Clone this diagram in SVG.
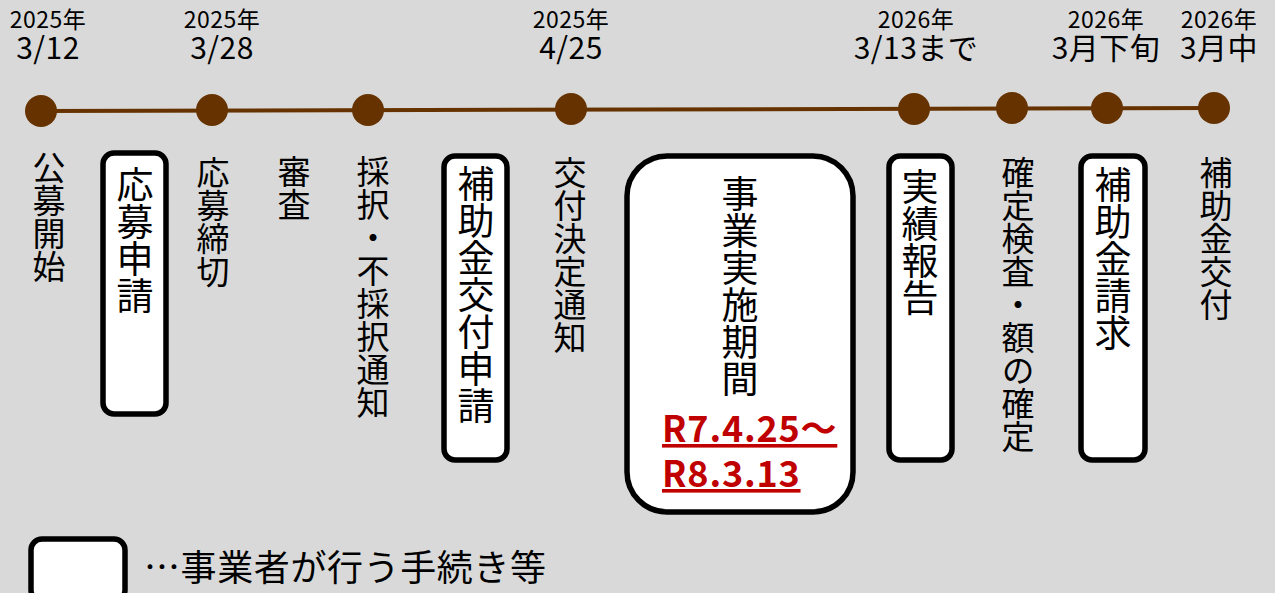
<svg xmlns="http://www.w3.org/2000/svg" width="1275" height="593" viewBox="0 0 1275 593">
<style>
text{font-family:"Noto Sans CJK JP","Noto Sans",sans-serif;fill:#000}
.yr{font-size:23px;text-anchor:middle;letter-spacing:0.5px}
.dt{font-size:30px;text-anchor:middle;letter-spacing:0.5px}
.v{font-size:33px;writing-mode:vertical-rl;text-orientation:upright}
.vb{font-size:37px;writing-mode:vertical-rl;text-orientation:upright}
.box{fill:#fff;stroke:#000;stroke-width:5.5}
.dot{fill:#663300}
.red{font-size:36px;font-weight:700;fill:#c00000;text-decoration:underline;letter-spacing:0.8px}
</style>
<rect width="1275" height="593" fill="#d9d9d9"/>
<g id="connectors">
<line x1="41" y1="111" x2="1219" y2="108" stroke="#663300" stroke-width="4"/>
</g>
<g id="dates">
<text class="yr" x="48" y="28">2025年</text><text class="dt" x="48" y="59">3/12</text>
<text class="yr" x="222" y="28">2025年</text><text class="dt" x="222" y="59">3/28</text>
<text class="yr" x="571" y="28">2025年</text><text class="dt" x="571" y="59">4/25</text>
<text class="yr" x="916" y="28">2026年</text><text class="dt" x="916" y="59">3/13まで</text>
<text class="yr" x="1106" y="28">2026年</text><text class="dt" x="1106" y="59">3月下旬</text>
<text class="yr" x="1219" y="28">2026年</text><text class="dt" x="1219" y="59">3月中</text>
</g>
<g id="dots">
<circle class="dot" cx="41" cy="111" r="16"/>
<circle class="dot" cx="212" cy="110" r="16"/>
<circle class="dot" cx="368" cy="110" r="16"/>
<circle class="dot" cx="571" cy="109" r="16"/>
<circle class="dot" cx="914" cy="109" r="16"/>
<circle class="dot" cx="1012" cy="108" r="16"/>
<circle class="dot" cx="1107" cy="108" r="16"/>
<circle class="dot" cx="1214" cy="108" r="16"/>
</g>
<g id="n1"><text class="v" x="49" y="151">公募開始</text></g>
<g id="n2"><rect class="box" x="103" y="153" width="63" height="261" rx="11"/><text class="vb" x="135" y="166">応募申請</text></g>
<g id="n3"><text class="v" x="213" y="156">応募締切</text></g>
<g id="n4"><text class="v" x="294" y="155">審査</text></g>
<g id="n5"><text class="v" x="373" y="155">採択・不採択通知</text></g>
<g id="n6"><rect class="box" x="444" y="156" width="63" height="304" rx="11"/><text class="vb" x="476" y="165">補助金交付申請</text></g>
<g id="n7"><text class="v" x="570" y="156">交付決定通知</text></g>
<g id="n8"><rect class="box" x="627" y="156" width="226" height="356" rx="40"/><text class="vb" x="740" y="175">事業実施期間</text>
<text class="red" x="662" y="442">R7.4.25～</text><text class="red" x="662" y="487">R8.3.13</text></g>
<g id="n9"><rect class="box" x="889" y="156" width="63" height="304" rx="11"/><text class="vb" x="920" y="168">実績報告</text></g>
<g id="n10"><text class="v" x="1018" y="156">確定検査・額の確定</text></g>
<g id="n11"><rect class="box" x="1081" y="156" width="64" height="304" rx="11"/><text class="vb" x="1113" y="166">補助金請求</text></g>
<g id="n12"><text class="v" x="1216" y="156">補助金交付</text></g>
<g id="legend"><rect class="box" x="31" y="539" width="94" height="62" rx="11"/><text x="144" y="581" style="font-size:36px;letter-spacing:0.6px">…事業者が行う手続き等</text></g>
</svg>
